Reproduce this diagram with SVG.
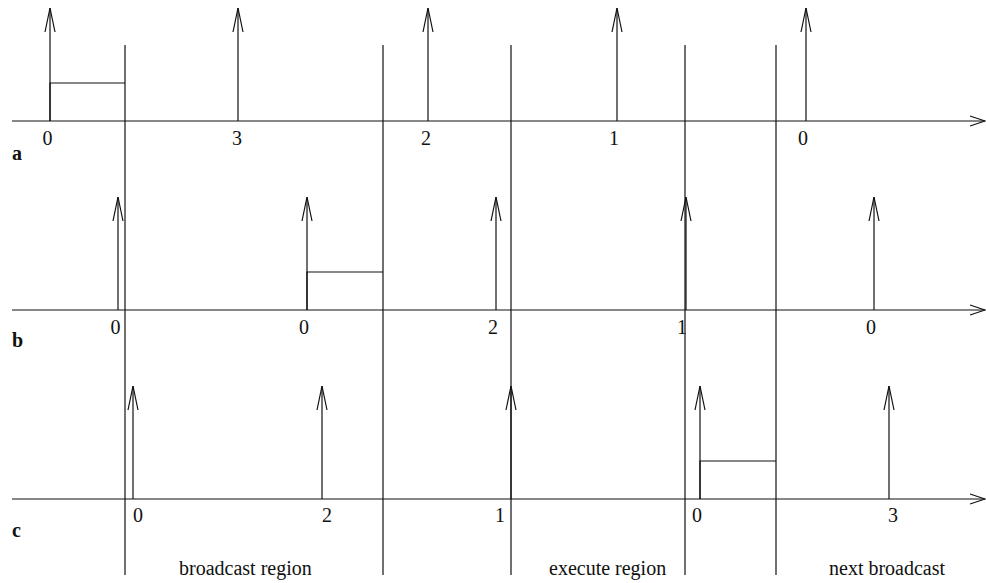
<svg xmlns="http://www.w3.org/2000/svg" width="986" height="583" viewBox="0 0 986 583">
<style>
line, path, rect, polyline { stroke: #111; stroke-width: 1.2; fill: none; }
text { font-family: "Liberation Serif", "Times New Roman", serif; font-size: 20px; fill: #111; }
.num { text-anchor: middle; }
.row { font-weight: bold; }
.imp { marker-end: url(#imp); }
.axis { marker-end: url(#ax); }
</style>
<defs>
<marker id="imp" markerUnits="userSpaceOnUse" markerWidth="30" markerHeight="14" viewBox="-26 -7 30 14" refX="0" refY="0" orient="auto" overflow="visible">
<path d="M -24 -5 L 0 0 L -24 5" style="stroke:#111;stroke-width:1.2;fill:none"/>
</marker>
<marker id="ax" markerUnits="userSpaceOnUse" markerWidth="20" markerHeight="14" viewBox="-17 -7 20 14" refX="0" refY="0" orient="auto" overflow="visible">
<path d="M -15 -5 L 0 0 L -15 5" style="stroke:#111;stroke-width:1.2;fill:none"/>
</marker>
</defs>

<g id="boundaries">
<line x1="125" y1="45" x2="125" y2="575"/>
<line x1="383" y1="45" x2="383" y2="575"/>
<line x1="511" y1="45" x2="511" y2="575"/>
<line x1="685" y1="45" x2="685" y2="575"/>
<line x1="776" y1="45" x2="776" y2="575"/>
</g>

<g id="row-a">
<line class="axis" x1="12" y1="121" x2="985" y2="121"/>
<polyline points="50,121 50,83 125,83"/>
<line class="imp" x1="50" y1="121" x2="50" y2="8"/>
<line class="imp" x1="238" y1="121" x2="238" y2="8"/>
<line class="imp" x1="428" y1="121" x2="428" y2="8"/>
<line class="imp" x1="617" y1="121" x2="617" y2="8"/>
<line class="imp" x1="806" y1="121" x2="806" y2="8"/>
<text class="num" x="47.5" y="145">0</text>
<text class="num" x="237" y="145">3</text>
<text class="num" x="426" y="145">2</text>
<text class="num" x="614" y="145">1</text>
<text class="num" x="803" y="145">0</text>
<text class="row" x="12" y="160">a</text>
</g>

<g id="row-b">
<line class="axis" x1="12" y1="310" x2="985" y2="310"/>
<polyline points="307,310 307,272 383,272"/>
<line class="imp" x1="118" y1="310" x2="118" y2="197"/>
<line class="imp" x1="307" y1="310" x2="307" y2="197"/>
<line class="imp" x1="496" y1="310" x2="496" y2="197"/>
<line class="imp" x1="686" y1="310" x2="686" y2="197"/>
<line class="imp" x1="874" y1="310" x2="874" y2="197"/>
<text class="num" x="115.5" y="334">0</text>
<text class="num" x="304" y="334">0</text>
<text class="num" x="493" y="334">2</text>
<text class="num" x="682" y="334">1</text>
<text class="num" x="871" y="334">0</text>
<text class="row" x="12" y="347">b</text>
</g>

<g id="row-c">
<line class="axis" x1="12" y1="499" x2="985" y2="499"/>
<polyline points="700,499 700,461 776,461"/>
<line class="imp" x1="133" y1="499" x2="133" y2="386"/>
<line class="imp" x1="322" y1="499" x2="322" y2="386"/>
<line class="imp" x1="511" y1="499" x2="511" y2="386"/>
<line class="imp" x1="700" y1="499" x2="700" y2="386"/>
<line class="imp" x1="889" y1="499" x2="889" y2="386"/>
<text class="num" x="138" y="522">0</text>
<text class="num" x="327" y="522">2</text>
<text class="num" x="500" y="522">1</text>
<text class="num" x="697" y="522">0</text>
<text class="num" x="893" y="522">3</text>
<text class="row" x="12" y="537">c</text>
</g>

<g id="region-labels">
<text x="179" y="575">broadcast region</text>
<text x="549" y="575">execute region</text>
<text x="829" y="575">next broadcast</text>
</g>
</svg>
